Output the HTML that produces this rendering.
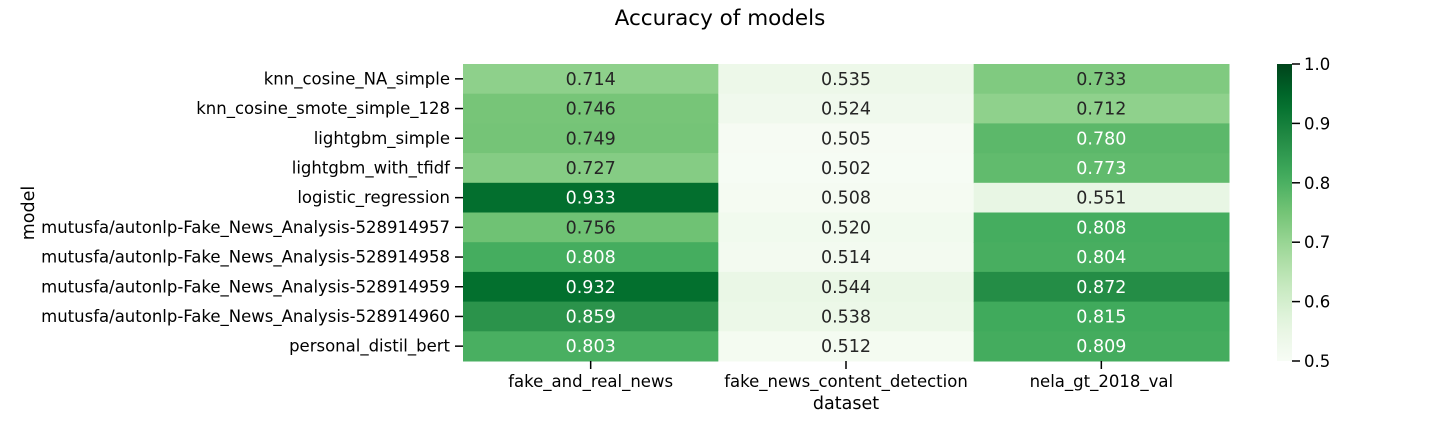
<!DOCTYPE html>
<html><head><meta charset="utf-8"><style>
body{margin:0;background:#fff;}
svg text{font-family:"DejaVu Sans","Liberation Sans",sans-serif;}
</style></head><body>
<svg id="chart" width="1440" height="432" xmlns="http://www.w3.org/2000/svg">
<text x="720" y="25" font-size="21.5" text-anchor="middle">Accuracy of models</text>
<text x="846" y="409" font-size="17.5" text-anchor="middle">dataset</text>
<text x="34" y="213" font-size="17.5" text-anchor="middle" transform="rotate(-90 34 213)">model</text>
<defs><linearGradient id="cbg" x1="0" y1="1" x2="0" y2="0"></linearGradient></defs>
<g id="cells"></g><g id="axes"></g>
</svg>
<script>
const models=["knn_cosine_NA_simple","knn_cosine_smote_simple_128","lightgbm_simple","lightgbm_with_tfidf","logistic_regression","mutusfa/autonlp-Fake_News_Analysis-528914957","mutusfa/autonlp-Fake_News_Analysis-528914958","mutusfa/autonlp-Fake_News_Analysis-528914959","mutusfa/autonlp-Fake_News_Analysis-528914960","personal_distil_bert"];
const datasets=["fake_and_real_news","fake_news_content_detection","nela_gt_2018_val"];
const colFakeReal=[0.714,0.746,0.749,0.727,0.933,0.756,0.808,0.932,0.859,0.803];
const colContent=[0.535,0.524,0.505,0.502,0.508,0.520,0.514,0.544,0.538,0.512];
const colNela=[0.733,0.712,0.780,0.773,0.551,0.808,0.804,0.872,0.815,0.809];
const cbTicks=[0.5,0.6,0.7,0.8,0.9,1.0];
const vmin=0.5,vmax=1.0;
const X0=463,X1=1229,Y0=64,Y1=361;
const cw=(X1-X0)/datasets.length, rh=(Y1-Y0)/models.length;
const stops=["#f7fcf5","#e5f5e0","#c7e9c0","#a1d99b","#74c476","#41ab5d","#238b45","#006d2c","#00441b"].map(h=>[1,3,5].map(i=>parseInt(h.substr(i,2),16)));
function cmap(v){let t=Math.max(0,Math.min(1,(v-vmin)/(vmax-vmin)))*8;let i=Math.min(7,Math.floor(t)),f=t-i;return stops[i].map((c,k)=>c+(stops[i+1][k]-c)*f);}
function lum(c){const l=c.map(x=>{x/=255;return x<=0.03928?x/12.92:Math.pow((x+0.055)/1.055,2.4)});return 0.2126*l[0]+0.7152*l[1]+0.0722*l[2];}
const NS="http://www.w3.org/2000/svg";
const cells=document.getElementById('cells'),axes=document.getElementById('axes');
function mk(tag,at,parent){const e=document.createElementNS(NS,tag);for(const k in at)e.setAttribute(k,at[k]);parent.appendChild(e);return e;}
const cols=[colFakeReal,colContent,colNela];
cols.forEach((col,j)=>{col.forEach((v,i)=>{
 const c=cmap(v);
 const r=mk('rect',{x:X0+j*cw,y:Y0+i*rh,width:cw+0.5,height:rh+0.5,fill:`rgb(${c.map(Math.round).join(',')})`},cells);
 
 
 const t=mk('text',{x:X0+(j+0.5)*cw,y:Y0+(i+0.5)*rh+6,'font-size':17.5,'text-anchor':'middle',fill:lum(c)>0.408?'#262626':'#ffffff'},cells);
 t.textContent=v.toFixed(3);
 
 
});});
models.forEach((m,i)=>{const y=Y0+(i+0.5)*rh;
 mk('line',{x1:X0-8,x2:X0,y1:y,y2:y,stroke:'#000','stroke-width':1.5},axes);
 const t=mk('text',{x:X0-13,y:y+5.5,'font-size':16.5,'text-anchor':'end'},axes);t.textContent=m;
 
 });
datasets.forEach((d,j)=>{const x=X0+(j+0.5)*cw;
 mk('line',{x1:x,x2:x,y1:Y1,y2:Y1+8,stroke:'#000','stroke-width':1.5},axes);
 const t=mk('text',{x:x,y:Y1+26,'font-size':16.5,'text-anchor':'middle'},axes);t.textContent=d;
 
 });
const g=document.getElementById('cbg');
for(let k=0;k<=20;k++){const v=vmin+(vmax-vmin)*k/20;const c=cmap(v);mk('stop',{offset:k/20,'stop-color':`rgb(${c.map(Math.round).join(',')})`},g);}
const CB0=1277,CB1=1292;
const cb=mk('rect',{x:CB0,y:Y0,width:CB1-CB0,height:Y1-Y0,fill:'url(#cbg)'},axes);


cbTicks.forEach(v=>{const y=Y1-(v-vmin)/(vmax-vmin)*(Y1-Y0);
 mk('line',{x1:CB1,x2:CB1+8,y1:y,y2:y,stroke:'#000','stroke-width':1.5},axes);
 const t=mk('text',{x:CB1+12,y:y+6,'font-size':16.5},axes);t.textContent=v.toFixed(1);
 
 });
</script>
</body></html>
